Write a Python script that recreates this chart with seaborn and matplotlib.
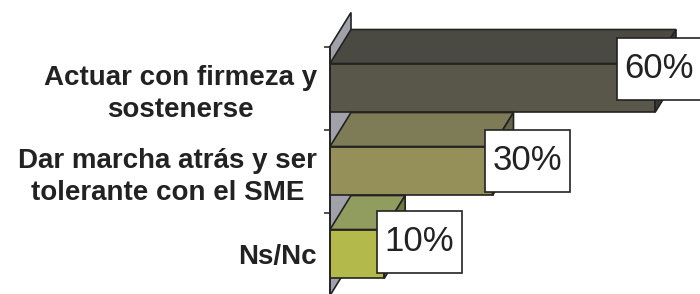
import matplotlib
matplotlib.use("Agg")
import matplotlib.pyplot as plt
import seaborn as sns
from matplotlib.patches import Polygon, Rectangle
from matplotlib.transforms import IdentityTransform

# ---- data ----
categories = ["Actuar con firmeza y\nsostenerse",
              "Dar marcha atrás y ser\ntolerante con el SME",
              "Ns/Nc"]
values = [60, 30, 10]
value_labels = ["60%", "30%", "10%"]

# ---- style ----
front_colors = ["#58574a", "#958f5a", "#b3b94b"]
top_colors = ["#4b4a42", "#7e7b57", "#919d5e"]
side_colors = ["#3a3a33", "#66654a", "#6f7a43"]
wall_color = "#a0a1a9"
edge = "#222222"
W, H = 700, 294
DX, DY = 21, 34          # 3D depth offset in pixels
label_nudge_y = [9, 0, 2]  # pixel nudges of value boxes (up)

fig = plt.figure(figsize=(W / 100, H / 100), dpi=100)
ax = fig.add_axes([330 / W, -1.5 / H, 325 / W, 249 / H])
ax.patch.set_visible(False)

sns.barplot(x=values, y=categories, hue=categories, palette=front_colors,
            legend=False, orient="h", width=0.59, saturation=1,
            edgecolor=edge, linewidth=1.2, ax=ax, zorder=2)
ax.set_xlim(0, 60)
ax.set_ylim(2.5, -0.5)

for s in ["top", "right", "bottom"]:
    ax.spines[s].set_visible(False)
ax.spines["left"].set_color(edge)
ax.spines["left"].set_linewidth(1.2)
ax.spines["left"].set_zorder(4)
ax.set_xticks([])
ax.set_xlabel("")
ax.set_ylabel("")
ax.set_yticks(range(len(categories)))
ax.set_yticklabels(categories, fontsize=20, fontweight="bold",
                   family=["Liberation Sans", "DejaVu Sans"],
                   multialignment="center", color="#222222", linespacing=1.3)
ax.tick_params(axis="y", which="major", length=0, pad=9.5)
ax.set_yticks([-0.5, 0.5, 1.5, 2.5], minor=True)
ax.tick_params(axis="y", which="minor", length=4, width=1.1, color=edge)

fig.canvas.draw()
T = ax.transData
ident = IdentityTransform()

# left side wall
(x0, ytop), = T.transform([(0, -0.5)])
(_, ybot), = T.transform([(0, 2.5)])
wall = Polygon([(x0, ytop), (x0 + DX, ytop + DY), (x0 + DX, ybot + DY), (x0, ybot)],
               closed=True, facecolor=wall_color, edgecolor=edge, linewidth=1.2,
               transform=ident, clip_on=False, zorder=1)
ax.add_patch(wall)

bars = [p for p in ax.patches if isinstance(p, Rectangle)][:len(values)]
for i, b in enumerate(bars):
    bb = b.get_bbox()
    (xa, ya), (xb, yb) = T.transform([(bb.x0, bb.y0), (bb.x1, bb.y1)])
    left, right = min(xa, xb), max(xa, xb)
    bottom, top = min(ya, yb), max(ya, yb)
    topface = Polygon([(left, top), (right, top), (right + DX, top + DY), (left + DX, top + DY)],
                      closed=True, facecolor=top_colors[i], edgecolor=edge, linewidth=1.2,
                      transform=ident, clip_on=False, zorder=3)
    side = Polygon([(right, top), (right, bottom), (right + DX, bottom + DY), (right + DX, top + DY)],
                   closed=True, facecolor=side_colors[i], edgecolor=edge, linewidth=1.2,
                   transform=ident, clip_on=False, zorder=3)
    ax.add_patch(topface)
    ax.add_patch(side)

    bw, bh = 85, 62
    cx = min(right + 35, W - 41)
    cy = top - 14 + label_nudge_y[i]
    box = Rectangle((cx - bw / 2, cy - bh / 2), bw, bh, facecolor="white",
                    edgecolor=edge, linewidth=1.2, transform=ident,
                    clip_on=False, zorder=5)
    ax.add_patch(box)
    ax.text(cx, cy, value_labels[i], transform=ident, ha="center", va="center",
            fontsize=25, family=["Liberation Sans", "DejaVu Sans"],
            color="#222222", zorder=6)

fig.savefig("out.png", dpi=100)
